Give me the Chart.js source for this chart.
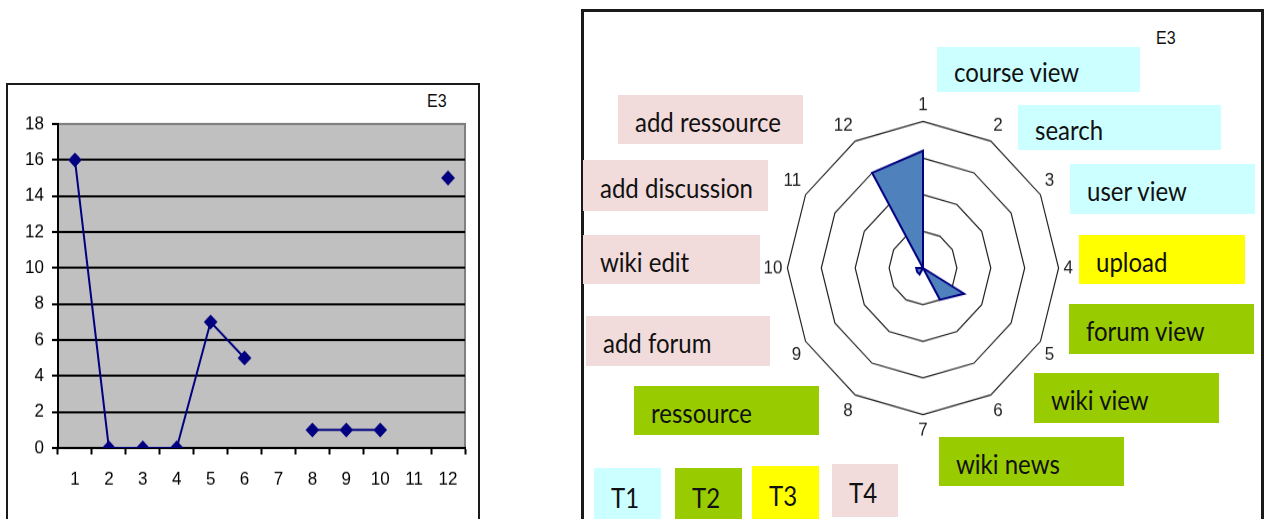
<!DOCTYPE html>
<html>
<head>
<meta charset="utf-8">
<script src="https://cdn.jsdelivr.net/npm/chart.js@4.4.1/dist/chart.umd.min.js"></script>
<style>
  html, body { margin: 0; padding: 0; background: #fff; width: 1265px; height: 519px; overflow: hidden; }
  body { position: relative; }
  .frame { position: absolute; border: 2px solid #1a1a1a; box-sizing: border-box; }
  .e3 { position: absolute; font: 16px "Liberation Sans", Arial, sans-serif; color: #111; transform: scaleY(1.1); }
  .box { position: absolute; box-sizing: border-box; overflow: hidden; }
  .box span { position: absolute; left: 17px; top: 0; bottom: 0; display: flex; align-items: center;
              font: 24px Lato, "Open Sans", sans-serif; color: #111; white-space: nowrap; padding-top: 3px;
              transform: scaleY(1.12); transform-origin: 0 55%; }
  canvas { position: absolute; }
</style>
</head>
<body>
<div class="frame" style="left:6px; top:83px; width:474px; height:460px;"></div>
<div class="frame" style="left:581px; top:9px; width:683px; height:540px; border-width:3px;"></div>
<div class="e3" style="left:427px; top:93px;">E3</div>
<div class="e3" style="left:1156px; top:30px;">E3</div>
<div id="boxes"></div>
<canvas id="line" width="471" height="403" style="left:7px; top:84px; transform: scaleY(1.08); transform-origin: 0 0;"></canvas>
<canvas id="radar" width="380" height="323" style="left:733px; top:107px; transform: scaleY(1.081); transform-origin: 190px 161px;"></canvas>
<script>
// ---- data ----
const categories = ['1','2','3','4','5','6','7','8','9','10','11','12'];
const lineValues = [16, 0, 0, 0, 7, 5, null, 1, 1, 1, null, 15];
const radarValues = [16, 0, 0, 0, 7, 5, 0, 1, 1, 1, 0, 15];
const yTicksMax = 18;
const radarMax = 20;
const actionLabels = ['course view','search','user view','upload','forum view','wiki view','wiki news',
                      'ressource','add forum','wiki edit','add discussion','add ressource'];
const actionTypes  = ['T1','T1','T1','T3','T2','T2','T2','T2','T4','T4','T4','T4'];
const typeLabels = ['T1','T2','T3','T4'];

// ---- layout/style (not data) ----
const typeColors = { T1: '#ccffff', T2: '#99cc00', T3: '#ffff00', T4: '#f2dcdb' };
const actionBoxes = [
  [937, 47, 203, 45], [1018, 105, 203, 45], [1070, 164, 185, 50], [1079, 235, 166, 49],
  [1069, 304, 185, 50], [1034, 373, 185, 50], [939, 437, 185, 49], [634, 386, 185, 49],
  [586, 316, 184, 50], [583, 235, 177, 49], [583, 160, 185, 51], [618, 95, 185, 49]
];
const typeBoxes = [[594, 468, 67, 55], [675, 468, 67, 55], [752, 466, 67, 55], [832, 464, 66, 53]];

const boxesEl = document.getElementById('boxes');
function addBox(text, color, r) {
  const d = document.createElement('div');
  d.className = 'box';
  d.style.cssText = `left:${r[0]}px;top:${r[1]}px;width:${r[2]}px;height:${r[3]}px;background:${color};`;
  const s = document.createElement('span');
  s.textContent = text;
  d.appendChild(s);
  boxesEl.appendChild(d);
}
actionLabels.forEach((t, i) => addBox(t, typeColors[actionTypes[i]], actionBoxes[i]));
typeLabels.forEach((t, i) => addBox(t, typeColors[t], typeBoxes[i]));

const plotBg = {
  id: 'plotBg',
  beforeDraw(chart) {
    const { ctx, chartArea: a } = chart;
    ctx.save();
    ctx.fillStyle = '#c0c0c0';
    ctx.fillRect(a.left, a.top, a.right - a.left, a.bottom - a.top);
    ctx.strokeStyle = '#808080';
    ctx.lineWidth = 2;
    ctx.beginPath();
    ctx.moveTo(a.left, a.top); ctx.lineTo(a.right, a.top); ctx.lineTo(a.right, a.bottom);
    ctx.stroke();
    ctx.restore();
  }
};

const axisFont = { family: '"Liberation Sans", Arial, sans-serif', size: 17 };

new Chart(document.getElementById('line'), {
  type: 'line',
  data: {
    labels: categories,
    datasets: [{
      data: lineValues,
      borderColor: '#000080',
      borderWidth: 2,
      backgroundColor: '#000080',
      pointStyle: 'rectRot',
      pointRadius: 5.5,
      pointBackgroundColor: '#000080',
      pointBorderColor: '#000080',
      spanGaps: false,
      tension: 0
    }]
  },
  options: {
    responsive: false,
    animation: false,
    layout: { padding: { top: 37, right: 13, left: 0, bottom: 0 } },
    plugins: { legend: { display: false }, tooltip: { enabled: false } },
    scales: {
      x: {
        offset: true,
        grid: { offset: true, drawOnChartArea: false, drawTicks: true, tickLength: 6, tickColor: '#000', tickWidth: 2 },
        border: { display: true, color: '#000', width: 2 },
        ticks: { color: '#000', font: axisFont, padding: 13, maxRotation: 0, autoSkip: false },
        afterFit(s) { s.height = 66; }
      },
      y: {
        min: 0, max: yTicksMax,
        ticks: { stepSize: 2, color: '#000', font: axisFont, padding: 8 },
        grid: {
          color: (c) => (c.tick && c.tick.value === yTicksMax ? '#808080' : '#000'),
          lineWidth: 2, tickLength: 6, tickColor: '#000', tickWidth: 2
        },
        border: { display: true, color: '#000', width: 2 },
        afterFit(s) { s.width = 51; }
      }
    }
  },
  plugins: [plotBg]
});

new Chart(document.getElementById('radar'), {
  type: 'radar',
  data: {
    labels: categories,
    datasets: [{
      data: radarValues,
      borderColor: '#000080',
      borderWidth: 2,
      backgroundColor: '#4f81bd',
      fill: true,
      pointRadius: 0,
      tension: 0
    }]
  },
  options: {
    responsive: false,
    animation: false,
    plugins: { legend: { display: false }, tooltip: { enabled: false } },
    scales: {
      r: {
        min: 0, max: radarMax,
        ticks: { display: false, stepSize: 5 },
        angleLines: { display: false },
        grid: { color: '#222', lineWidth: 1.2, circular: false },
        pointLabels: { display: true, color: '#222', padding: 5,
                       font: { family: '"Liberation Sans", Arial, sans-serif', size: 17 } }
      }
    }
  }
});
</script>
</body>
</html>
